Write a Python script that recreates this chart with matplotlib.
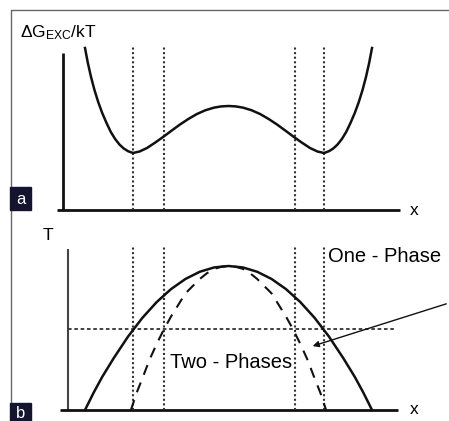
import numpy as np
import matplotlib
matplotlib.use("Agg")
import matplotlib.pyplot as plt

plt.rcParams['font.family'] = ['Liberation Sans', 'DejaVu Sans']
plt.rcParams['mathtext.fontset'] = 'custom'
plt.rcParams['mathtext.rm'] = 'Liberation Sans'
plt.rcParams['mathtext.it'] = 'Liberation Sans'

# excess free energy of mixing vs composition (panel a)
comp_g = [0.0, 0.010, 0.021, 0.033, 0.046, 0.060, 0.075, 0.090, 0.105, 0.120,
          0.135, 0.150, 0.167, 0.190, 0.216, 0.245, 0.272, 0.300, 0.330, 0.360,
          0.390, 0.420, 0.450, 0.475, 0.500,
          0.525, 0.550, 0.580, 0.610, 0.640, 0.670, 0.700, 0.728, 0.755, 0.784,
          0.810, 0.833, 0.850, 0.865, 0.880, 0.895, 0.910, 0.925, 0.940, 0.954,
          0.967, 0.979, 0.990, 1.0]
g_exc = [1.62, 1.47, 1.33, 1.20, 1.08, 0.97, 0.87, 0.78, 0.71, 0.655,
         0.615, 0.588, 0.57, 0.585, 0.62, 0.675, 0.73, 0.79, 0.853, 0.91,
         0.96, 0.998, 1.024, 1.036, 1.04,
         1.036, 1.024, 0.998, 0.96, 0.91, 0.853, 0.79, 0.73, 0.675, 0.62,
         0.585, 0.57, 0.588, 0.615, 0.655, 0.71, 0.78, 0.87, 0.97, 1.08,
         1.20, 1.33, 1.47, 1.62]

# coexistence (binodal) curve, panel b
comp_bin = [0.0, 0.03, 0.06, 0.10, 0.15, 0.20, 0.25, 0.30, 0.35, 0.40, 0.45,
            0.50, 0.55, 0.60, 0.65, 0.70, 0.75, 0.80, 0.85, 0.90, 0.94, 0.97, 1.0]
t_bin = [0.0, 0.12, 0.23, 0.36, 0.51, 0.64, 0.75, 0.84, 0.91, 0.96, 0.99,
         1.0, 0.99, 0.96, 0.91, 0.84, 0.75, 0.64, 0.51, 0.36, 0.23, 0.12, 0.0]

# spinodal curve, panel b
comp_spin = [0.160, 0.18, 0.20, 0.225, 0.25, 0.275, 0.30, 0.325, 0.35, 0.375,
             0.40, 0.425, 0.45, 0.475, 0.50, 0.525, 0.55, 0.575, 0.60, 0.625,
             0.65, 0.675, 0.70, 0.725, 0.75, 0.775, 0.80, 0.82, 0.840]
t_spin = [0.0, 0.12, 0.22, 0.35, 0.46, 0.56, 0.65, 0.73, 0.81, 0.86,
          0.91, 0.95, 0.98, 0.995, 1.0, 0.995, 0.98, 0.95, 0.91, 0.86,
          0.81, 0.73, 0.65, 0.56, 0.46, 0.35, 0.22, 0.12, 0.0]

binodal_x = [0.167, 0.833]
spinodal_x = [0.277, 0.730]
t_quench = 0.5625

W, H = 449, 421
fig = plt.figure(figsize=(W / 100, H / 100), dpi=100)
fig.patch.set_facecolor("white")


def px_axes(left, right, top, bottom):
    return fig.add_axes([left / W, 1 - bottom / H, (right - left) / W, (bottom - top) / H])


# background in pixel units for frame and panel tags
bg = px_axes(0, W, 0, H)
bg.set_xlim(0, W)
bg.set_ylim(H, 0)
bg.axis("off")
bg.plot([11, 11, W], [H, 10, 10], color="#666666", lw=1.0)
for tag, (y0, y1) in (("a", (187, 210)), ("b", (403, 421))):
    bg.add_patch(plt.Rectangle((10, y0), 21, y1 - y0, color="#14142e", zorder=3))
    bg.text(20.5, (y0 + y1) / 2 + 1, tag, color="white", fontsize=12,
            ha="center", va="center", zorder=4)

ink = "#111111"
dot = "#333333"

# panel a
ax = px_axes(20, 449, 12, 215)
ax.set_xlim((20 - 85) / 287, (449 - 85) / 287)
ax.set_ylim((210 - 215) / 100, (210 - 12) / 100)
ax.axis("off")
ax.plot([-0.077, -0.077], [0, 1.57], color=ink, lw=2.0, solid_capstyle="butt")
ax.plot([-0.098, 1.098], [0, 0], color=ink, lw=2.0, solid_capstyle="butt")
for xv in binodal_x + spinodal_x:
    ax.plot([xv, xv], [0, 1.63], color=dot, lw=1.5, ls=(0, (1, 1.2)))
ax.plot(comp_g, g_exc, color=ink, lw=1.8)
ax.text(-0.225, 1.77, r"$\Delta$G$_{\rm EXC}$/kT", fontsize=12.5, ha="left", va="center")
ax.text(1.13, 0.0, "x", fontsize=12.5, ha="left", va="center")

# panel b
bx = px_axes(20, 449, 225, 421)
bx.set_xlim((20 - 85) / 287, (449 - 85) / 287)
bx.set_ylim((410 - 421) / 144, (410 - 225) / 144)
bx.axis("off")
bx.plot([-0.059, -0.059], [0, 1.12], color="#444444", lw=1.5, solid_capstyle="butt")
bx.plot([-0.087, 1.09], [0, 0], color=ink, lw=2.0, solid_capstyle="butt")
for xv in binodal_x + spinodal_x:
    bx.plot([xv, xv], [0, 1.13], color=dot, lw=1.5, ls=(0, (1, 1.2)))
bx.plot([-0.059, 1.08], [t_quench, t_quench], color=dot, lw=1.3, ls=(0, (2, 1.5)))
bx.plot(comp_bin, t_bin, color=ink, lw=1.8)
bx.plot(comp_spin, t_spin, color=ink, lw=1.5, ls=(0, (5, 4)))
bx.text(-0.148, 1.21, "T", fontsize=12.5, ha="left", va="center")
bx.text(1.13, 0.0, "x", fontsize=12.5, ha="left", va="center")
bx.text(0.847, 1.0625, "One - Phase", fontsize=14.5, ha="left", va="center")
bx.text(0.296, 0.33, "Two - Phases", fontsize=14.5, ha="left", va="center")
bx.annotate("", xy=(0.784, 0.438), xytext=(1.268, 0.743), annotation_clip=False,
            arrowprops=dict(arrowstyle="-|>", color=ink, lw=1.0, mutation_scale=9))

fig.savefig("out.png", dpi=100, facecolor="white")
